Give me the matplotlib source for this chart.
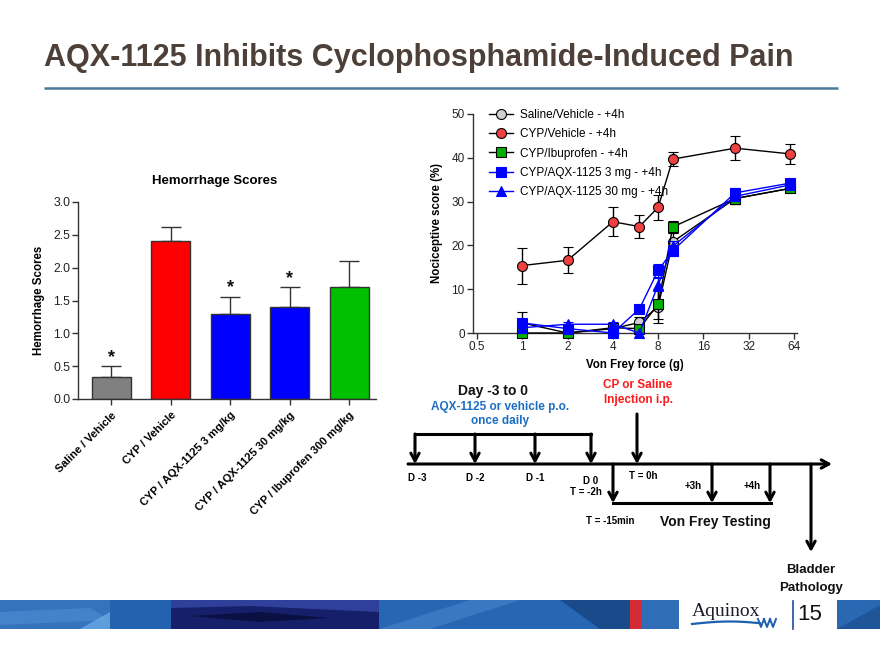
import numpy as np
import matplotlib
matplotlib.use('Agg')
import matplotlib.pyplot as plt
from matplotlib.patches import Rectangle, Polygon
from matplotlib.lines import Line2D

plt.rcParams['font.family'] = ['Liberation Sans', 'DejaVu Sans']

# ---------------- data ----------------
bar_categories = ['Saline / Vehicle', 'CYP / Vehicle', 'CYP / AQX-1125 3 mg/kg',
                  'CYP / AQX-1125 30 mg/kg', 'CYP / Ibuprofen 300 mg/kg']
bar_values = [0.33, 2.40, 1.30, 1.40, 1.70]
bar_errors = [0.17, 0.22, 0.26, 0.30, 0.40]
bar_significant = [True, False, True, True, False]
bar_colors = ['#808080', '#ff0000', '#0000ff', '#0000ff', '#00c000']
bar_yticks = [0.0, 0.5, 1.0, 1.5, 2.0, 2.5, 3.0]

vf_force = [1, 2, 4, 6, 8, 10, 26, 60]
vf_ticks = [0.5, 1, 2, 4, 8, 16, 32, 64]
vf_ticklabels = ['0.5', '1', '2', '4', '8', '16', '32', '64']
saline_vals = [2.3, 0.0, 1.0, 2.4, 6.0, 20.8, 30.7, 33.0]
saline_err = [2.6, 0.0, 0.8, 1.2, 3.7, 2.0, 1.3, 0.6]
cyp_vals = [15.4, 16.6, 25.4, 24.3, 28.7, 39.7, 42.2, 40.9]
cyp_err = [4.1, 3.0, 3.3, 2.7, 2.8, 1.6, 2.8, 2.3]
ibu_vals = [0.0, 0.0, 1.2, 1.0, 6.6, 24.2, 30.7, 33.0]
ibu_err = [0.0, 0.0, 0.6, 0.8, 3.5, 1.4, 1.2, 0.6]
aqx3_vals = [2.3, 1.0, 0.0, 5.5, 14.3, 18.8, 32.0, 34.2]
aqx3_err = [0.8, 0.6, 0.0, 1.0, 1.5, 1.2, 1.0, 0.6]
aqx30_vals = [1.2, 2.0, 2.0, 0.0, 11.0, 19.8, 31.2, 33.8]
aqx30_err = [0.6, 0.6, 0.6, 0.0, 1.5, 1.2, 1.0, 0.6]

W, H = 880, 660
fig = plt.figure(figsize=(8.8, 6.6), dpi=100)
fig.patch.set_facecolor('white')


def box(x0, y0, x1, y1):
    return [x0 / W, 1 - y1 / H, (x1 - x0) / W, (y1 - y0) / H]


# ---------------- overlay (slide decorations) ----------------
ov = fig.add_axes([0, 0, 1, 1], zorder=0)
ov.set_xlim(0, W)
ov.set_ylim(H, 0)
ov.axis('off')

ov.text(44, 66, 'AQX-1125 Inhibits Cyclophosphamide-Induced Pain',
        fontweight='bold', fontsize=22, color='#4d4038', va='baseline', ha='left')
ov.plot([44, 838], [88, 88], color='#4a7a96', lw=1.8, solid_capstyle='butt')

# footer band
band_y0, band_y1 = 600, 629
segs = [(0, 110, '#3673bd'), (110, 171, '#2262ae'), (171, 379, '#16206a'),
        (379, 630, '#2766b2'), (630, 642, '#d42c36'), (642, 679, '#2f6db6'),
        (837, 880, '#2a68b3')]
for x0, x1, c in segs:
    ov.add_patch(Rectangle((x0, band_y0), x1 - x0, band_y1 - band_y0, color=c, lw=0))
ov.add_patch(Polygon([[0, 612], [90, 608], [110, 620], [0, 625]], closed=True, color='#4f8fd2', lw=0, alpha=0.6))
ov.add_patch(Polygon([[80, 629], [110, 612], [110, 629]], closed=True, color='#6fb0e8', lw=0, alpha=0.7))
ov.add_patch(Polygon([[171, 600], [379, 600], [379, 612], [250, 606], [171, 608]], closed=True, color='#3a4fb0', lw=0, alpha=0.7))
ov.add_patch(Polygon([[190, 616], [260, 612], [330, 618], [260, 622]], closed=True, color='#05062a', lw=0, alpha=0.6))
ov.add_patch(Polygon([[379, 629], [470, 600], [520, 600], [430, 629]], closed=True, color='#4d8ad0', lw=0, alpha=0.5))
ov.add_patch(Polygon([[560, 600], [630, 600], [630, 629], [600, 629]], closed=True, color='#10386e', lw=0, alpha=0.6))
ov.add_patch(Polygon([[837, 629], [880, 605], [880, 629]], closed=True, color='#184a8a', lw=0, alpha=0.6))
# logo
ov.text(692, 612, 'Aquinox', family=['Liberation Serif', 'DejaVu Serif'], fontsize=14,
        color='#1c1c2c', va='center', ha='left')
xw = np.linspace(692, 760, 60)
ov.plot(xw, 624 - 2.5 * np.sin((xw - 692) / 68 * np.pi * 0.9), color='#1e5fae', lw=1.6)
for k in range(3):
    ov.plot([758 + 6 * k, 761 + 6 * k, 764 + 6 * k], [619, 627, 619], color='#1e5fae', lw=1.4)
ov.plot([793, 793], [601, 629], color='#1e4f96', lw=1.2)
ov.text(797, 615, '15', fontsize=16, color='#111111', va='center', ha='left')

# ---------------- timeline diagram ----------------
arrow_kw = dict(arrowstyle='->, head_length=0.55, head_width=0.3', lw=2.2, color='black',
                shrinkA=0, shrinkB=0)


def down_arrow(x, y0, y1):
    ov.annotate('', xy=(x, y1), xytext=(x, y0), arrowprops=arrow_kw)


ov.annotate('', xy=(832, 464), xytext=(408, 464), arrowprops=arrow_kw)
ov.plot([415, 591], [434, 434], color='black', lw=2.2, solid_capstyle='projecting')
for x in [415, 475, 535, 591]:
    down_arrow(x, 434, 464)
down_arrow(637, 414, 464)
down_arrow(613, 464, 503)
ov.plot([613, 771], [503, 503], color='black', lw=2.2)
down_arrow(712, 464, 503)
down_arrow(770, 464, 503)
down_arrow(811, 464, 552)

small = dict(fontsize=7, fontweight='bold', color='black', ha='center', va='center')
ov.text(417, 478, 'D -3', **small)
ov.text(475, 478, 'D -2', **small)
ov.text(535, 478, 'D -1', **small)
ov.text(591, 481, 'D 0', **small)
ov.text(586, 492, 'T = -2h', **small)
ov.text(643, 476, 'T = 0h', **small)
ov.text(693, 486, '+3h', **small)
ov.text(752, 486, '+4h', **small)
ov.text(610, 521, 'T = -15min', **small)
ov.text(715, 522, 'Von Frey Testing', fontsize=10, fontweight='bold', color='#111111',
        ha='center', va='center')
ov.text(811, 570, 'Bladder', fontsize=9.5, fontweight='bold', color='#111111', ha='center', va='center')
ov.text(811, 588, 'Pathology', fontsize=9.5, fontweight='bold', color='#111111', ha='center', va='center')
ov.text(493, 391, 'Day -3 to 0', fontsize=10, fontweight='bold', color='#111111', ha='center', va='center')
ov.text(500, 407, 'AQX-1125 or vehicle p.o.', fontsize=8.5, fontweight='bold', color='#1b6ec2',
        ha='center', va='center')
ov.text(500, 421, 'once daily', fontsize=8.5, fontweight='bold', color='#1b6ec2', ha='center', va='center')
ov.text(638, 385, 'CP or Saline', fontsize=8.5, fontweight='bold', color='#ff1a1a', ha='center', va='center')
ov.text(638, 400, 'Injection i.p.', fontsize=8.5, fontweight='bold', color='#ff1a1a', ha='center', va='center')

# ---------------- bar chart ----------------
axb = fig.add_axes(box(78, 202, 376, 399), zorder=2)
axb.patch.set_alpha(0)
xpos = np.arange(len(bar_categories))
axb.bar(xpos, bar_values, width=0.65, color=bar_colors, edgecolor='#333333', linewidth=1.0,
        zorder=2)
axb.errorbar(xpos, bar_values, yerr=[np.zeros(len(bar_values)), bar_errors], fmt='none',
             ecolor='#333333', elinewidth=1.0, capsize=7, capthick=1.0, zorder=1)
for x, v, e, s in zip(xpos, bar_values, bar_errors, bar_significant):
    if s:
        axb.text(x, v + e + 0.13, '*', fontsize=13, fontweight='bold', ha='center', va='center',
                 color='#111111')
axb.set_xlim(-0.56, 4.45)
axb.set_ylim(0, 3.0)
axb.set_yticks(bar_yticks)
axb.set_yticklabels(['%.1f' % t for t in bar_yticks])
axb.set_xticks(xpos)
axb.set_xticklabels(bar_categories, rotation=45, ha='right', rotation_mode='anchor',
                    fontweight='bold', fontsize=8)
for s in ['top', 'right']:
    axb.spines[s].set_visible(False)
for s in ['left', 'bottom']:
    axb.spines[s].set_color('#333333')
    axb.spines[s].set_linewidth(1.0)
axb.tick_params(axis='y', direction='out', length=4, width=1, color='#333333', labelsize=8.8,
                labelcolor='#222222', pad=1.5)
axb.tick_params(axis='x', direction='out', length=4, width=1, color='#333333', pad=4)
axb.set_ylabel('Hemorrhage Scores', fontsize=8.3, fontweight='bold', labelpad=6)
axb.set_title('Hemorrhage Scores', fontsize=9.5, fontweight='bold', pad=13, x=0.46)

# ---------------- Von Frey line chart ----------------
axl = fig.add_axes(box(473, 114, 797, 333), zorder=2)
axl.patch.set_alpha(0)
axl.set_xscale('log', base=2)
axl.set_xlim(0.47, 67)
axl.set_ylim(0, 50)

ms = 7.2
series = [
    # vals, err, line color, marker, face, edge, label, z
    (saline_vals, saline_err, 'black', 'o', '#d0d0d0', 'black', 'Saline/Vehicle - +4h', 3),
    (ibu_vals, ibu_err, 'black', 's', '#00b000', 'black', 'CYP/Ibuprofen - +4h', 4),
    (aqx30_vals, aqx30_err, '#0000ff', '^', '#0000ff', '#0000ff', 'CYP/AQX-1125 30 mg - +4h', 5),
    (aqx3_vals, aqx3_err, '#0000ff', 's', '#0000ff', '#0000ff', 'CYP/AQX-1125 3 mg - +4h', 6),
    (cyp_vals, cyp_err, 'black', 'o', '#f04040', 'black', 'CYP/Vehicle - +4h', 7),
]
legend_handles = {}
for vals, err, lc, mk, fc, ec, lab, z in series:
    m = ms if mk == 'o' else ms - 0.6
    axl.errorbar(vf_force, vals, yerr=err, color=lc, ecolor=lc, lw=1.0, marker=mk, ms=m,
                 markerfacecolor=fc, markeredgecolor=ec, markeredgewidth=0.8, elinewidth=1.0,
                 capsize=3.5, capthick=1.0, clip_on=False, zorder=z)
    legend_handles[lab] = Line2D([], [], color=lc, lw=1.0, marker=mk, ms=m, markerfacecolor=fc,
                                 markeredgecolor=ec, markeredgewidth=0.8)

order = ['Saline/Vehicle - +4h', 'CYP/Vehicle - +4h', 'CYP/Ibuprofen - +4h',
         'CYP/AQX-1125 3 mg - +4h', 'CYP/AQX-1125 30 mg - +4h']
leg = axl.legend([legend_handles[l] for l in order], order, loc='upper left',
                 bbox_to_anchor=(0.035, 1.045), frameon=False, fontsize=8.5, handlelength=2.0,
                 handletextpad=0.6, labelspacing=0.62, borderaxespad=0)
leg.set_zorder(10)

axl.set_xticks(vf_ticks)
axl.set_xticklabels(vf_ticklabels)
axl.minorticks_off()
axl.set_yticks([0, 10, 20, 30, 40, 50])
for s in ['top', 'right']:
    axl.spines[s].set_visible(False)
for s in ['left', 'bottom']:
    axl.spines[s].set_color('#333333')
    axl.spines[s].set_linewidth(1.0)
axl.tick_params(direction='out', length=4, width=1, color='#333333', labelsize=8.5,
                labelcolor='#222222', pad=2)
axl.set_xlabel('Von Frey force (g)', fontsize=8.3, fontweight='bold', labelpad=4)
axl.set_ylabel('Nociceptive score (%)', fontsize=8.3, fontweight='bold', labelpad=6)

fig.savefig('out.png', dpi=100, facecolor='white')
